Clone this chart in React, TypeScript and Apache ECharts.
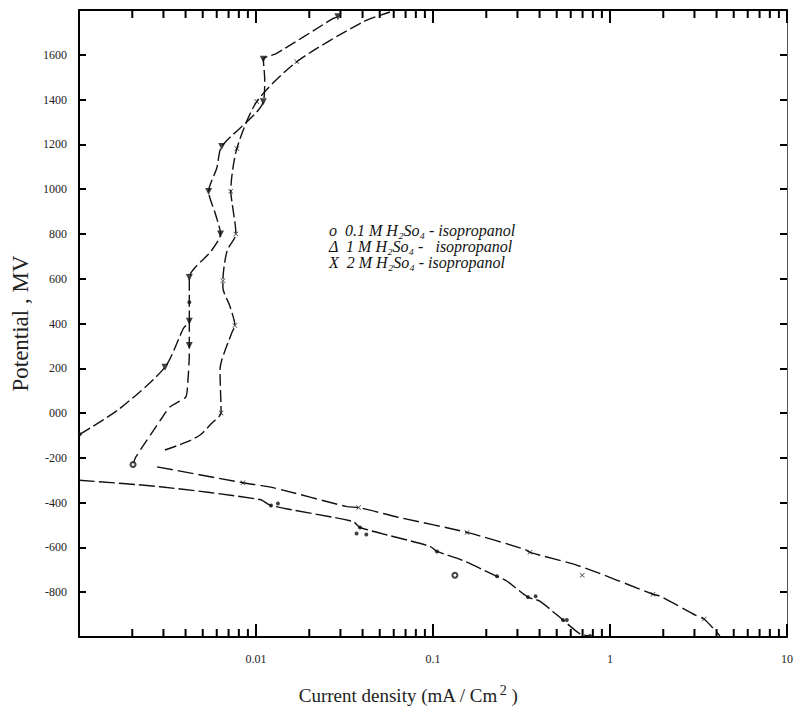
import React, { useEffect, useRef } from "react";
import * as echarts from "echarts";

// ---- Data (current density mA/cm², potential mV) ----
// Anodic branch, left curve (filled ▼ markers)
const anodicA: [number, number][] = [
  [0.00101, -95], [0.0017, 20], [0.00306, 205], [0.0039, 380], [0.0042, 410],
  [0.0042, 495], [0.0042, 605], [0.0056, 725], [0.0063, 800], [0.0059, 889],
  [0.0054, 990], [0.006, 1093], [0.0064, 1190], [0.011, 1390], [0.0112, 1490],
  [0.011, 1580], [0.013, 1605], [0.027, 1760], [0.029, 1770],
];
const anodicAMarks: [number, number][] = [
  [0.00306, 205], [0.0042, 410], [0.0042, 605], [0.0063, 800], [0.0054, 990],
  [0.0064, 1190], [0.011, 1390], [0.011, 1580], [0.029, 1770],
];
const anodicADots: [number, number][] = [[0.00101, -95], [0.0042, 495]];

// Anodic branch, middle curve (starts at open circle)
const anodicB: [number, number][] = [
  [0.00202, -230], [0.0021, -195], [0.00294, -22], [0.00326, 27], [0.004, 71],
  [0.0041, 116], [0.0042, 267], [0.0042, 302], [0.0042, 410],
];
const anodicBMarks: [number, number][] = [[0.0042, 302]];
const anodicBStart: [number, number][] = [[0.00202, -230]];

// Anodic branch, right curve (x markers)
const anodicC: [number, number][] = [
  [0.00306, -165], [0.00407, -129], [0.00483, -98], [0.00564, -44], [0.00635, 0],
  [0.00626, 191], [0.0064, 236], [0.00731, 360], [0.0076, 391], [0.0071, 480],
  [0.0065, 560], [0.0065, 591], [0.00686, 724], [0.0077, 800], [0.0073, 947],
  [0.0072, 991], [0.0078, 1182], [0.0101, 1391], [0.017, 1569], [0.0402, 1747],
  [0.0571, 1791],
];
const anodicCMarks: [number, number][] = [
  [0.00635, 0], [0.0076, 391], [0.0065, 591], [0.0077, 800], [0.0072, 991],
  [0.0078, 1182], [0.0101, 1391], [0.017, 1569],
];

// Cathodic branch, lower-left curve
const cathodicA: [number, number][] = [
  [0.001, -300], [0.00287, -329], [0.01053, -386], [0.01215, -413], [0.0353, -484],
  [0.0387, -511], [0.0962, -595], [0.1053, -618], [0.142, -653], [0.23, -729],
  [0.262, -751], [0.344, -822], [0.401, -840], [0.542, -924], [0.677, -986],
  [0.772, -995],
];
const cathodicAMarks: [number, number][] = [
  [0.01215, -413], [0.0133, -404], [0.0387, -511], [0.037, -538], [0.042, -542],
  [0.1053, -618], [0.23, -729], [0.344, -822], [0.38, -818], [0.542, -924],
  [0.57, -924], [0.772, -995],
];
const cathodicACircles: [number, number][] = [[0.133, -724]];

// Cathodic branch, upper-right curve
const cathodicB: [number, number][] = [
  [0.00276, -240], [0.00844, -311], [0.01247, -333], [0.0327, -418], [0.038, -422],
  [0.0651, -467], [0.1556, -533], [0.331, -609], [0.353, -622], [0.677, -684],
  [1.75, -809], [1.92, -818], [3.1, -906], [3.4, -920], [4.18, -995],
];
const cathodicBMarks: [number, number][] = [
  [0.00844, -311], [0.038, -422], [0.1556, -533], [0.353, -622], [0.697, -724],
  [1.75, -809], [3.4, -920],
];

// Axis ticks / labels
const xMin = 0.001;
const xMax = 10;
const yMin = -1000;
const yMax = 1800;
const yStep = 200;
const xMinorTicks = [
  0.002, 0.003, 0.004, 0.005, 0.006, 0.007, 0.008, 0.009,
  0.02, 0.03, 0.04, 0.05, 0.06, 0.07, 0.08, 0.09,
  0.2, 0.3, 0.4, 0.5, 0.6, 0.7, 0.8, 0.9,
  2, 3, 4, 5, 6, 7, 8, 9,
];
const xTickLabels: Record<string, string> = { "-3": "", "-2": "0.01", "-1": "0.1", "0": "1", "1": "10" };
const legendLines = [
  "o  0.1 M H\u2082So\u2084 - isopropanol",
  "\u0394  1 M H\u2082So\u2084 -   isopropanol",
  "X  2 M H\u2082So\u2084 - isopropanol",
];

const SERIF = "'Liberation Serif', 'DejaVu Serif', serif";
const INK = "#000";
const X_PATH = "path://M0,1L1,0L5,4L9,0L10,1L6,5L10,9L9,10L5,6L1,10L0,9L4,5Z";

export default function App() {
  const ref = useRef<HTMLDivElement>(null);
  useEffect(() => {
    if (!ref.current) return;
    const chart = echarts.init(ref.current, undefined, { renderer: "svg" });
    const line = (data: [number, number][], dash: number[]) => ({
      type: "line",
      data,
      smooth: 0.25,
      showSymbol: false,
      symbol: "none",
      lineStyle: { color: "#111", width: 1.4, type: dash },
      z: 2,
    });
    const marks = (data: [number, number][], symbol: string, size: number, rotate = 0) => ({
      type: "scatter",
      data,
      symbol,
      symbolSize: size,
      symbolRotate: rotate,
      itemStyle: { color: "#111", borderColor: "#111", borderWidth: symbol === "emptyCircle" ? 1.2 : 0 },
      z: 3,
    });
    chart.setOption({
      animation: false,
      backgroundColor: "#fff",
      title: legendLines.map((t, i) => ({
        text: t,
        left: 329,
        top: 222 + i * 16,
        padding: 0,
        textStyle: { fontFamily: SERIF, fontStyle: "italic", fontWeight: "normal", fontSize: 16, color: "#111" },
      })),
      grid: { left: 79, right: 11, top: 10, bottom: 78 },
      xAxis: [
        {
          type: "log",
          logBase: 10,
          min: xMin,
          max: xMax,
          name: "{a|Current density (mA / Cm}{s|2}{a| )}",
          nameLocation: "middle",
          nameGap: 46,
          nameTextStyle: {
            padding: [0, 50, 0, 0],
            rich: {
              a: { fontFamily: SERIF, fontSize: 19, color: "#222" },
              s: { fontFamily: SERIF, fontSize: 14, color: "#222", padding: [0, 0, 10, 2] },
            },
          },
          axisLine: { show: true, onZero: false, lineStyle: { color: INK, width: 2 } },
          axisTick: { show: true, inside: true, length: 13, lineStyle: { color: INK, width: 2 } },
          axisLabel: {
            margin: 16,
            color: "#222",
            fontFamily: SERIF,
            fontSize: 12,
            formatter: (v: number) => xTickLabels[String(Math.round(Math.log10(v)))] ?? "",
          },
          splitLine: { show: false },
        },
        {
          type: "log",
          logBase: 10,
          min: xMin,
          max: xMax,
          position: "top",
          axisLine: { show: true, onZero: false, lineStyle: { color: INK, width: 2 } },
          axisTick: { show: true, inside: true, length: 13, lineStyle: { color: INK, width: 2 } },
          axisLabel: { show: false },
          splitLine: { show: false },
        },
      ],
      yAxis: [
        {
          type: "value",
          min: yMin,
          max: yMax,
          interval: yStep,
          name: "Potential , MV",
          nameLocation: "middle",
          nameGap: 40,
          nameTextStyle: { fontFamily: SERIF, fontSize: 23, color: "#222" },
          axisLine: { show: true, onZero: false, lineStyle: { color: INK, width: 2 } },
          axisTick: { show: true, inside: true, length: 7, lineStyle: { color: INK, width: 2 } },
          axisLabel: {
            margin: 12,
            color: "#222",
            fontFamily: SERIF,
            fontSize: 12,
            formatter: (v: number) => (v === yMin || v === yMax ? "" : v === 0 ? "000" : String(v)),
          },
          splitLine: { show: false },
        },
        {
          type: "value",
          min: yMin,
          max: yMax,
          interval: yStep,
          position: "right",
          axisLine: { show: true, onZero: false, lineStyle: { color: "#555", width: 1 } },
          axisTick: { show: true, inside: true, length: 7, lineStyle: { color: INK, width: 2 } },
          axisLabel: { show: false },
          splitLine: { show: false },
        },
      ],
      series: [
        {
          type: "custom",
          clip: false,
          data: xMinorTicks.map((v) => [v, 0]),
          encode: { x: 0, y: 1 },
          renderItem: (_p: any, api: any) => {
            const v = api.value(0);
            const b = api.coord([v, yMin]);
            const t = api.coord([v, yMax]);
            return {
              type: "group",
              children: [
                { type: "line", shape: { x1: b[0], y1: b[1], x2: b[0], y2: b[1] - 8 }, style: { stroke: INK, lineWidth: 2 } },
                { type: "line", shape: { x1: t[0], y1: t[1], x2: t[0], y2: t[1] + 8 }, style: { stroke: INK, lineWidth: 2 } },
              ],
            };
          },
          z: 1,
        },
        line(anodicA, [12, 4]),
        line(anodicB, [12, 5]),
        line(anodicC, [12, 4]),
        line(cathodicA, [16, 4]),
        line(cathodicB, [16, 5]),
        marks(anodicAMarks, "triangle", 7, 180),
        marks(anodicADots, "circle", 4),
        marks(anodicBMarks, "triangle", 7, 180),
        marks(anodicBStart, "emptyCircle", 5),
        marks(anodicCMarks, X_PATH, 5),
        marks(cathodicAMarks, "circle", 4),
        marks(cathodicACircles, "emptyCircle", 5),
        marks(cathodicBMarks, X_PATH, 5),
      ],
    });
    return () => chart.dispose();
  }, []);
  return <div ref={ref} style={{ position: "fixed", left: 0, top: 0, width: 798, height: 715 }} />;
}
